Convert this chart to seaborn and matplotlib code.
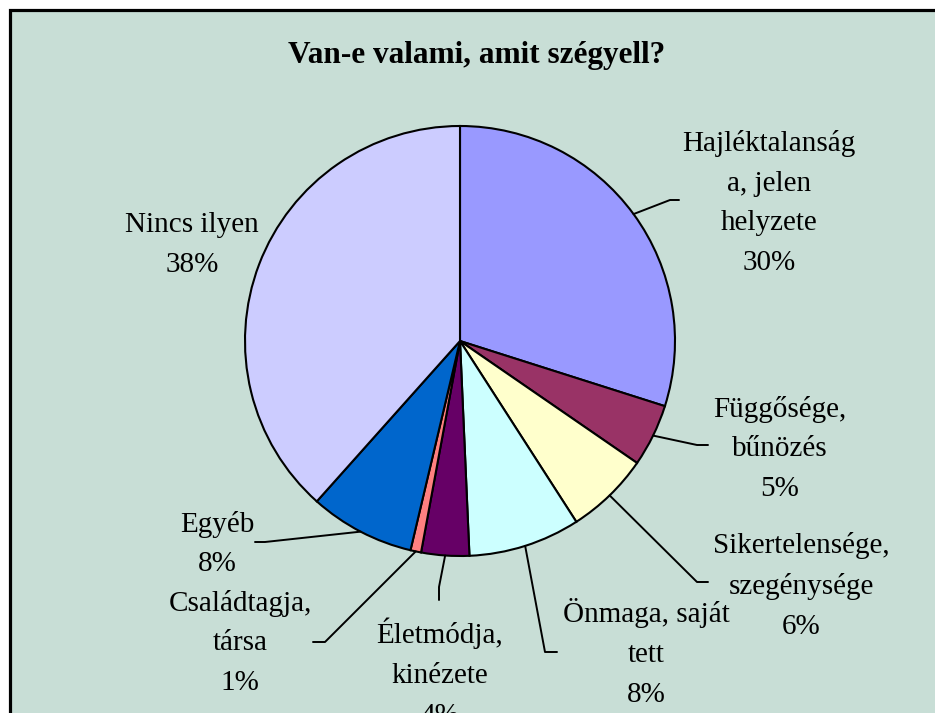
import matplotlib
matplotlib.use("Agg")
import matplotlib.pyplot as plt
import seaborn as sns
import numpy as np
from matplotlib.patches import Rectangle

# ---- data ----
title = "Van-e valami, amit szégyell?"
labels = ["Hajléktalanság\na, jelen\nhelyzete", "Függősége,\nbűnözés", "Sikertelensége,\nszegénysége",
          "Önmaga, saját\ntett", "Életmódja,\nkinézete", "Családtagja,\ntársa", "Egyéb", "Nincs ilyen"]
values = [29.9, 4.7, 6.3, 8.4, 3.6, 0.8, 7.9, 38.4]
colors = ["#9999FF", "#993366", "#FFFFCC", "#CCFFFF", "#660066", "#FF8080", "#0066CC", "#CCCCFF"]

# ---- layout (pixels) ----
W, H = 935, 713
CX, CY, R = 460, 341, 215
label_pos = [(769, 203), (780, 449), (801, 586), (646, 653), (440, 673), (240, 643), (217, 544), (192, 245)]
elbows = [[(670, 200), (679, 200)], [(697, 445), (708, 445)], [(697, 582), (708, 582)],
          [(545, 652), (557, 652)], [(439, 587), (439, 600)], [(325, 642), (313, 642)],
          [(265, 542), (255, 542)], None]

sns.set_style("white")
plt.rcParams['font.family'] = ['Liberation Serif', 'DejaVu Serif']
plt.rcParams['text.color'] = 'black'

fig = plt.figure(figsize=(W / 100, H / 100), dpi=100)
fig.patch.set_facecolor("white")
bg = "#C8DED6"
fig.patches.append(Rectangle((9.5 / W, -0.1), 1.2, (H - 9.5) / H + 0.1, transform=fig.transFigure,
                             facecolor=bg, edgecolor="black", linewidth=2.3, zorder=-5))

ax = fig.add_axes([(CX - R) / W, (H - CY - R) / H, 2 * R / W, 2 * R / H], zorder=2)
pal = sns.color_palette(colors)
wedges, _ = ax.pie(values, colors=pal, startangle=90, counterclock=False, radius=1,
                   wedgeprops=dict(edgecolor="black", linewidth=1.5))
ax.set_xlim(-1, 1)
ax.set_ylim(-1, 1)
ax.axis("off")
ax.patch.set_alpha(0)


def p2d(px, py):
    return ((px - CX) / R, (CY - py) / R)


for w, lab, v, pos, el in zip(wedges, labels, values, label_pos, elbows):
    pct = int(round(v))
    x, y = p2d(*pos)
    ax.text(x, y, f"{lab}\n{pct}%", ha="center", va="center", fontsize=21,
            linespacing=1.69, clip_on=False, color="black")
    if el is not None:
        th = np.deg2rad((w.theta1 + w.theta2) / 2)
        pts = [(np.cos(th), np.sin(th))] + [p2d(*p) for p in el]
        xs, ys = zip(*pts)
        ax.plot(xs, ys, color="black", linewidth=1.4, clip_on=False)

fig.text(477 / W, 1 - 55 / H, title, ha="center", va="center", fontsize=22.5,
         fontweight="bold", color="black")

fig.savefig("out.png", dpi=100, facecolor=fig.get_facecolor())
